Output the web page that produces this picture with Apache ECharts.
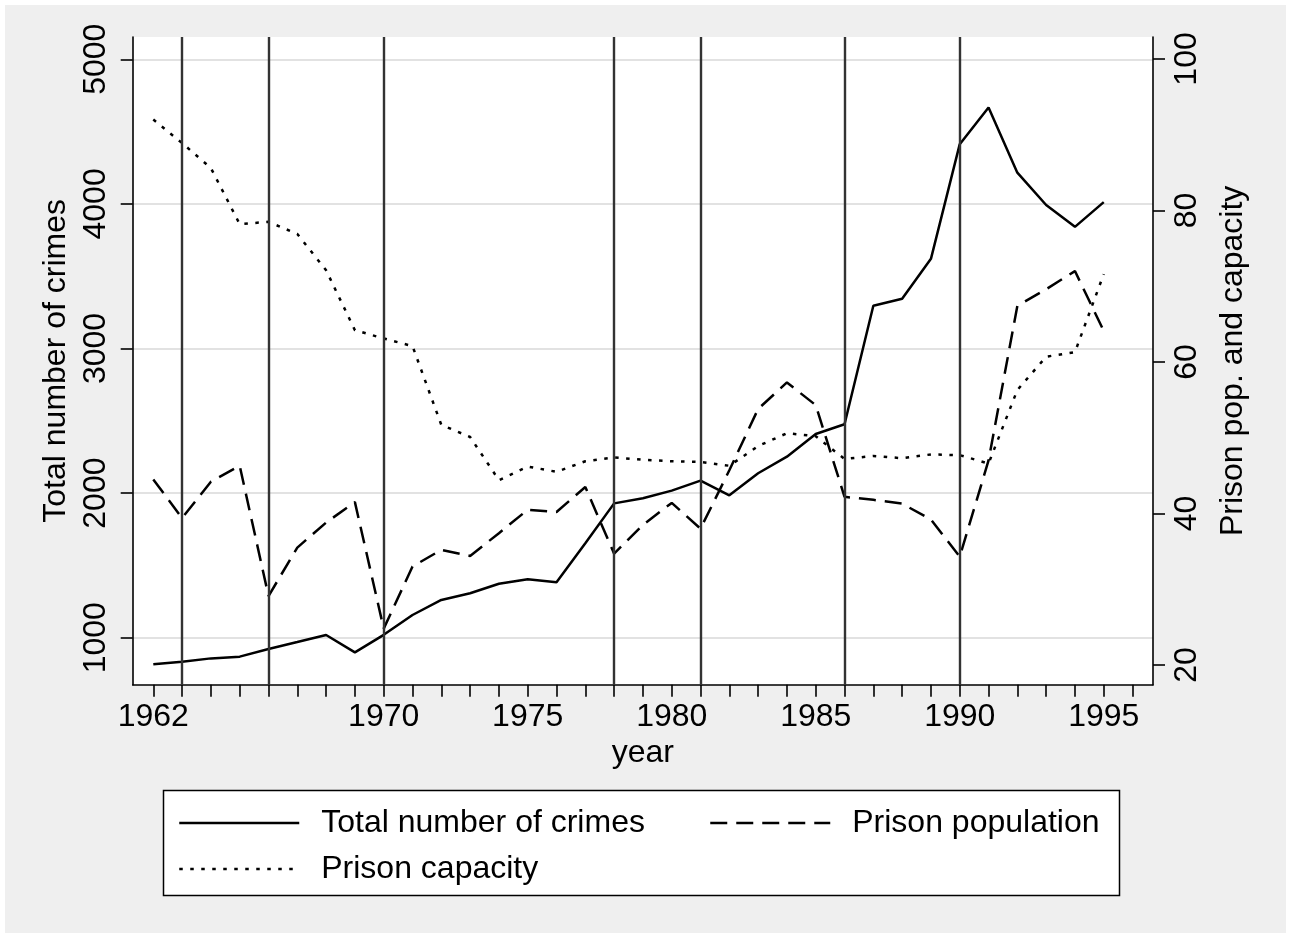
<!DOCTYPE html>
<html><head><meta charset="utf-8">
<script src="https://cdn.jsdelivr.net/npm/echarts@6/dist/echarts.min.js"></script>
<style>html,body{margin:0;padding:0;background:#fff}#c{width:1291px;height:938px}</style>
</head><body><div id="c"></div>
<script>
const years = [1962,1963,1964,1965,1966,1967,1968,1969,1970,1971,1972,1973,1974,1975,1976,1977,1978,1979,1980,1981,1982,1983,1984,1985,1986,1987,1988,1989,1990,1991,1992,1993,1994,1995];
const crimes = [816,834,857,869,922,970,1019,899,1020,1157,1261,1307,1373,1404,1383,1653,1929,1964,2017,2086,1985,2137,2252,2409,2476,3295,3344,3620,4413,4666,4216,3992,3841,4012];
const population = [44.5,39.4,44.2,46.3,29.1,35.5,38.8,41.5,24.8,33.0,35.2,34.4,37.4,40.5,40.2,43.5,34.7,38.5,41.4,38.0,45.7,53.8,57.3,54.3,42.2,41.8,41.3,39.2,34.3,47.0,67.4,69.6,72.0,64.1];
const capacity = [92.0,88.9,85.6,78.2,78.5,76.9,72.1,64.2,63.1,62.1,51.7,50.1,44.4,46.2,45.5,46.9,47.4,47.1,46.9,46.8,46.3,48.9,50.6,50.2,47.2,47.6,47.3,47.8,47.7,46.6,56.3,60.7,61.3,71.6];
const xTickYears = [1962,1963,1964,1965,1966,1967,1968,1969,1970,1971,1972,1973,1974,1975,1976,1977,1978,1979,1980,1981,1982,1983,1984,1985,1986,1987,1988,1989,1990,1991,1992,1993,1994,1995,1996];
const xLabelYears = [1962,1970,1975,1980,1985,1990,1995];
const leftTicks = [1000,2000,3000,4000,5000];
const rightTicks = [20,40,60,80,100];
const eventYears = [1963,1966,1970,1978,1981,1986,1990];
const names = ['Total number of crimes','Prison population','Prison capacity'];

const FONT = '"Liberation Sans", Arial, Helvetica, sans-serif';
const FS = 32;
const txt = {fontSize: FS, color: '#000', fontFamily: FONT};
const plain = v => String(v);
const axLine = {show: true, onZero: false, lineStyle: {color: '#000', width: 1.6}};
const axTick = (vals) => ({show: true, length: 12, inside: false, customValues: vals, lineStyle: {color: '#000', width: 1.6}});

const chart = echarts.init(document.getElementById('c'), null, {renderer: 'canvas'});
const legendBase = {orient: 'vertical', padding: 0, itemWidth: 120, itemHeight: 14, itemGap: 14,
  textStyle: Object.assign({padding: [0, 0, 0, 17]}, txt), selectedMode: false,
  itemStyle: {opacity: 0, borderWidth: 0}, lineStyle: {width: 2.5}};
const option = {
  backgroundColor: '#ffffff',
  animation: false,
  textStyle: {fontFamily: FONT},
  graphic: [
    {type: 'rect', z: -10, silent: true, shape: {x: 5, y: 5, width: 1281, height: 928}, style: {fill: '#efefef'}},
    {type: 'rect', z: 1, silent: true, shape: {x: 163.5, y: 790.5, width: 956, height: 105}, style: {fill: '#ffffff', stroke: '#000', lineWidth: 1.5}}
  ],
  grid: {left: 132.7, right: 138, top: 37, bottom: 253.3, show: true, backgroundColor: '#ffffff', borderWidth: 0, containLabel: false},
  xAxis: {
    type: 'value', min: 1961.285, max: 1996.71,
    name: 'year', nameLocation: 'middle', nameGap: 51, nameTextStyle: txt,
    axisLine: axLine, axisTick: axTick(xTickYears),
    axisLabel: Object.assign({customValues: xLabelYears, margin: 16, formatter: plain}, txt),
    splitLine: {show: false}
  },
  yAxis: [
    {
      type: 'value', position: 'left', min: 675, max: 5154,
      name: 'Total number of crimes', nameLocation: 'middle', nameGap: 60, nameTextStyle: txt,
      axisLine: axLine, axisTick: axTick(leftTicks),
      axisLabel: Object.assign({customValues: leftTicks, rotate: 90, margin: 21, formatter: plain}, txt),
      splitLine: {show: true, lineStyle: {color: '#e2e2e2', width: 2}}
    },
    {
      type: 'value', position: 'right', min: 17.4, max: 102.9,
      name: 'Prison pop. and capacity', nameLocation: 'middle', nameGap: 64, nameTextStyle: txt,
      axisLine: axLine, axisTick: axTick(rightTicks),
      axisLabel: Object.assign({customValues: rightTicks, rotate: 90, margin: 18, formatter: plain}, txt),
      splitLine: {show: false}
    }
  ],
  legend: [
    Object.assign({left: 178, top: 807, data: [names[0], names[2]]}, legendBase),
    Object.assign({left: 709, top: 807, data: [names[1]]}, legendBase)
  ],
  series: [
    {
      name: names[0], type: 'line', xAxisIndex: 0, yAxisIndex: 0, symbol: 'none', showSymbol: false, z: 3,
      data: years.map((y, i) => [y, crimes[i]]),
      lineStyle: {color: '#000', width: 2.5, type: 'solid'},
      itemStyle: {color: '#000'},
      emphasis: {disabled: true},
      markLine: {
        silent: true, symbol: ['none', 'none'], label: {show: false}, animation: false,
        lineStyle: {color: '#333333', width: 2.4, type: 'solid'},
        emphasis: {disabled: true},
        data: eventYears.map(y => ({xAxis: y}))
      }
    },
    {
      name: names[1], type: 'line', xAxisIndex: 0, yAxisIndex: 1, symbol: 'none', showSymbol: false, z: 3,
      data: years.map((y, i) => [y, population[i]]),
      lineStyle: {color: '#000', width: 2.5, type: [17, 9], cap: 'butt'},
      itemStyle: {color: '#000'},
      emphasis: {disabled: true}
    },
    {
      name: names[2], type: 'line', xAxisIndex: 0, yAxisIndex: 1, symbol: 'none', showSymbol: false, z: 3,
      data: years.map((y, i) => [y, capacity[i]]),
      lineStyle: {color: '#000', width: 2.5, type: [3.5, 7.5], cap: 'butt'},
      itemStyle: {color: '#000'},
      emphasis: {disabled: true}
    }
  ]
};
chart.setOption(option);
</script></body></html>
